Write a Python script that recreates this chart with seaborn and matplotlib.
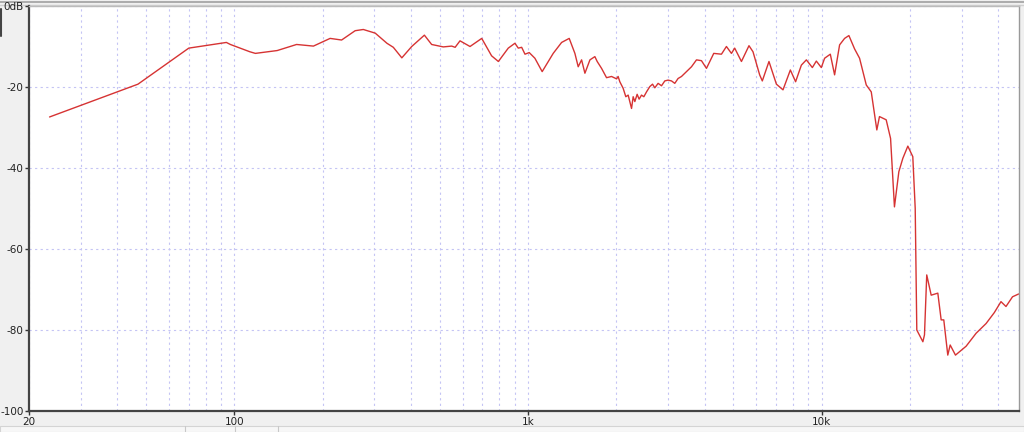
import numpy as np
import pandas as pd
import seaborn as sns
import matplotlib.pyplot as plt
import matplotlib.ticker as mticker
from matplotlib.patches import Rectangle
from matplotlib.lines import Line2D

# Frequency response (Hz, dB)
freq = [23.5, 47, 70, 94, 97, 113, 118, 140, 163, 186, 212, 232, 258, 275, 302,
        331, 348, 372, 402, 444, 470, 515, 550, 565, 587, 635, 696, 752, 793,
        857, 903, 927, 952, 977, 1010, 1056, 1118, 1219, 1302, 1382, 1445, 1483,
        1523, 1563, 1626, 1690, 1721, 1781, 1852, 1926, 2004, 2028, 2055, 2109,
        2154, 2194, 2223, 2253, 2282, 2312, 2354, 2391, 2436, 2481, 2534, 2600,
        2656, 2704, 2775, 2850, 2924, 3000, 3082, 3162, 3245, 3333, 3420, 3510,
        3605, 3749, 3898, 4054, 4292, 4559, 4741, 4931, 5058, 5333, 5658,
        5839, 6152, 6281, 6618, 7015, 7387, 7826, 8155, 8531, 8872, 9299, 9594,
        9977, 10237, 10705, 11071, 11514, 11974, 12385, 12950, 13465, 14191,
        14757, 15417, 15740, 16590, 17170, 17700, 18323, 18905, 19660, 20440,
        20830, 21090, 22120, 22400, 22800, 23610, 24870, 25530, 26060, 26890,
        27400, 28560, 31050, 33580, 36310, 38730, 40810, 42440, 44670, 46880]
level = [-27.4, -19.3, -10.4, -9.0, -9.5, -11.3, -11.7, -11.0, -9.5, -9.9, -8.0,
         -8.4, -6.1, -5.8, -6.7, -9.2, -10.2, -12.8, -10.0, -7.2, -9.5, -10.1,
         -9.9, -10.2, -8.6, -10.0, -8.0, -12.3, -13.7, -10.4, -9.2, -10.4, -10.2,
         -11.9, -11.5, -12.9, -16.2, -11.7, -9.0, -8.0, -11.7, -15.0, -13.3,
         -16.6, -13.3, -12.5, -13.7, -15.4, -17.7, -17.4, -18.0, -17.4, -18.7,
         -20.3, -22.4, -22.0, -23.6, -25.3, -22.4, -23.6, -21.8, -23.0, -22.0,
         -22.4, -21.2, -19.9, -19.3, -20.2, -19.1, -19.7, -18.5, -18.3, -18.5,
         -19.1, -17.9, -17.4, -16.6, -15.8, -15.0, -13.3, -13.5, -15.4, -11.7,
         -11.9, -10.0, -11.7, -10.4, -13.7, -9.8, -11.3, -17.0, -18.5, -13.7,
         -19.3, -20.7, -15.8, -18.7, -14.6, -13.3, -15.2, -13.6, -15.2, -12.9,
         -11.9, -17.0, -9.6, -8.0, -7.3, -10.6, -12.9, -19.5, -21.2, -30.6,
         -27.3, -28.1, -32.7, -49.6, -40.9, -37.6, -34.6, -37.2, -50.0, -80.0,
         -82.9, -81.2, -66.4, -71.4, -70.9, -77.5, -77.5, -86.2, -83.7, -86.2,
         -84.0, -80.8, -78.4, -75.7, -73.0, -74.2, -71.8, -71.1]

x_major = [20, 100, 1000, 10000]
x_labels = ['20', '100', '1k', '10k']
y_major = [0, -20, -40, -60, -80, -100]
y_labels = ['0dB', '-20', '-40', '-60', '-80', '-100']

df = pd.DataFrame({'freq': freq, 'level': level})

sns.set_style('white')
plt.rcParams['font.family'] = ['DejaVu Sans']

fig = plt.figure(figsize=(10.24, 4.32), dpi=100, facecolor='#f0f0f0')

# window chrome around the plot (drawn behind the axes)
fig.add_artist(Line2D([0, 1], [1 - 2 / 432, 1 - 2 / 432], color='#a0a0a0', linewidth=1.2, zorder=-2))
fig.add_artist(Line2D([0, 1], [1 - 4.5 / 432, 1 - 4.5 / 432], color='#d0d0d0', linewidth=1.0, zorder=-2))
fig.add_artist(Line2D([1 / 1024, 1 / 1024], [1 - 36 / 432, 1 - 9 / 432], color='#444444', linewidth=1.5, zorder=-2))
fig.add_artist(Rectangle((0, 0), 1, 6 / 432, facecolor='#f7f7f7', edgecolor='#d4d4d4',
                         linewidth=0.8, transform=fig.transFigure, zorder=-2))
for xs in [185, 235, 278]:
    fig.add_artist(Line2D([xs / 1024, xs / 1024], [0, 6 / 432], color='#c8c8c8', linewidth=0.8, zorder=-2))

ax = fig.add_axes([29 / 1024, 1 - 411 / 432, 990 / 1024, 405 / 432])
ax.set_facecolor('white')

sns.lineplot(data=df, x='freq', y='level', color='#d63333', linewidth=1.0, ax=ax)

ax.set_xscale('log')
ax.set_xlim(20, 47000)
ax.set_ylim(-100, 0)

ax.xaxis.set_major_locator(mticker.FixedLocator(x_major))
ax.xaxis.set_major_formatter(mticker.FixedFormatter(x_labels))
ax.xaxis.set_minor_locator(mticker.LogLocator(base=10, subs=np.arange(2, 10), numticks=20))
ax.xaxis.set_minor_formatter(mticker.NullFormatter())
ax.yaxis.set_major_locator(mticker.FixedLocator(y_major))
ax.yaxis.set_major_formatter(mticker.FixedFormatter(y_labels))

grid_kw = dict(color='#c4c4f4', linestyle=(0, (2, 3)), linewidth=0.8)
ax.grid(True, which='both', axis='x', **grid_kw)
ax.grid(True, which='major', axis='y', **grid_kw)

ax.tick_params(axis='both', which='major', direction='out', length=3, width=1,
               color='#333333', labelsize=7.5, labelcolor='#222222', pad=1)
ax.tick_params(axis='x', which='minor', direction='out', length=3, width=1,
               color='#333333')
ax.tick_params(axis='y', left=True)
ax.tick_params(axis='x', bottom=True)

for side in ['left', 'bottom']:
    ax.spines[side].set_color('#444444')
    ax.spines[side].set_linewidth(1.6)
ax.spines['top'].set_color('#bbbbbb')
ax.spines['right'].set_color('#999999')
ax.spines['top'].set_linewidth(1.0)
ax.spines['right'].set_linewidth(1.0)

ax.set_xlabel('')
ax.set_ylabel('')

fig.savefig('out.png', dpi=100, facecolor=fig.get_facecolor())
